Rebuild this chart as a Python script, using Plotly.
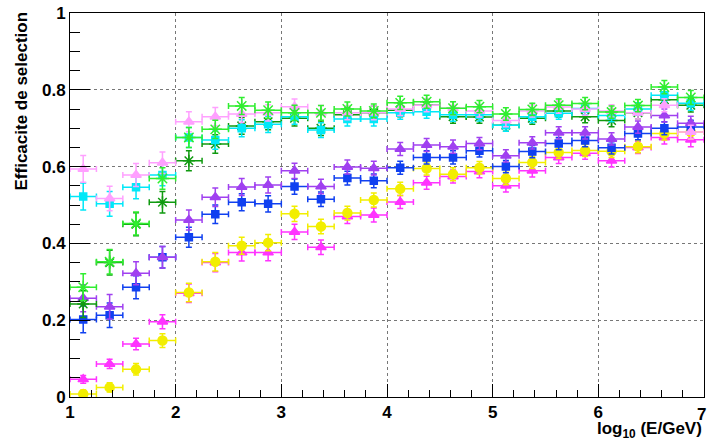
import plotly.graph_objects as go

x_centers = [1.125, 1.375, 1.625, 1.875, 2.125, 2.375, 2.625, 2.875, 3.125, 3.375, 3.625, 3.875,
             4.125, 4.375, 4.625, 4.875, 5.125, 5.375, 5.625, 5.875, 6.125, 6.375, 6.625, 6.875]
x_half_width = [0.125] * 24

light_pink = [0.594, 0.517, 0.578, 0.610, 0.717, 0.730, 0.737, 0.740, 0.756, 0.740, 0.740, 0.740,
              0.750, 0.760, 0.752, 0.745, 0.720, 0.745, 0.755, 0.750, 0.745, 0.740, 0.760, 0.690]
cyan = [0.522, 0.503, 0.546, 0.578, 0.676, 0.669, 0.700, 0.710, 0.730, 0.695, 0.724, 0.724,
        0.740, 0.743, 0.735, 0.735, 0.708, 0.730, 0.739, 0.751, 0.733, 0.750, 0.786, 0.765]
light_green = [0.286, 0.352, 0.452, 0.569, 0.676, 0.697, 0.758, 0.747, 0.740, 0.740, 0.750, 0.745,
               0.766, 0.769, 0.752, 0.756, 0.737, 0.749, 0.760, 0.764, 0.742, 0.759, 0.807, 0.780]
dark_green = [0.242, 0.350, 0.450, 0.507, 0.615, 0.659, 0.706, 0.717, 0.726, 0.700, 0.735, 0.740,
              0.747, 0.760, 0.730, 0.729, 0.708, 0.726, 0.745, 0.730, 0.720, 0.740, 0.774, 0.760]
purple = [0.257, 0.235, 0.322, 0.364, 0.461, 0.520, 0.547, 0.552, 0.589, 0.548, 0.599, 0.596,
          0.646, 0.656, 0.652, 0.660, 0.628, 0.662, 0.688, 0.688, 0.672, 0.703, 0.733, 0.713]
blue = [0.202, 0.213, 0.286, 0.364, 0.416, 0.476, 0.507, 0.503, 0.548, 0.515, 0.570, 0.563,
        0.597, 0.624, 0.624, 0.641, 0.600, 0.639, 0.660, 0.668, 0.649, 0.686, 0.700, 0.703]
yellow = [0.008, 0.025, 0.072, 0.147, 0.272, 0.352, 0.394, 0.402, 0.477, 0.444, 0.479, 0.513,
          0.542, 0.595, 0.580, 0.597, 0.569, 0.611, 0.637, 0.642, 0.640, 0.652, 0.686, 0.690]
magenta = [0.046, 0.086, 0.138, 0.196, 0.270, 0.350, 0.376, 0.376, 0.430, 0.390, 0.470, 0.474,
           0.508, 0.558, 0.574, 0.587, 0.550, 0.589, 0.624, 0.635, 0.615, 0.650, 0.676, 0.670]

y_err = [0.035, 0.032, 0.030, 0.028, 0.026, 0.024, 0.022, 0.021, 0.020, 0.019, 0.018, 0.018,
         0.017, 0.017, 0.017, 0.016, 0.016, 0.016, 0.016, 0.016, 0.016, 0.016, 0.017, 0.018]
low_err = [0.010, 0.012, 0.015, 0.018, 0.024, 0.024, 0.022, 0.021, 0.020, 0.019, 0.018, 0.018,
           0.017, 0.017, 0.017, 0.016, 0.016, 0.016, 0.016, 0.016, 0.016, 0.016, 0.017, 0.018]

x_range = [1, 7]
y_title = "Efficacite de selection"
x_title = "log<sub>10</sub> (E/GeV)"

series = [
    ("magenta", magenta, "#ff33ff", "triangle-up", 9, low_err),
    ("yellow", yellow, "#f2ee00", "circle", 9, low_err),
    ("blue", blue, "#1040f0", "square", 7, y_err),
    ("purple", purple, "#a040f0", "triangle-up", 9, y_err),
    ("dark_green", dark_green, "#109a10", "asterisk-open", 10, y_err),
    ("cyan", cyan, "#00e8f8", "square", 7, y_err),
    ("light_pink", light_pink, "#ffa0ff", "triangle-up", 9, y_err),
    ("light_green", light_green, "#30ee30", "asterisk-open", 11, y_err),
]

fig = go.Figure()
for name, vals, col, sym, size, err in series:
    fig.add_trace(go.Scatter(
        x=x_centers, y=vals, mode="markers", name=name,
        marker=dict(color=col, symbol=sym, size=size,
                    line=dict(color=col, width=1.5)),
        error_x=dict(type="data", array=x_half_width, color=col, thickness=1.5, width=3),
        error_y=dict(type="data", array=err, color=col, thickness=1.5, width=3),
        showlegend=False,
    ))

font_family = "Liberation Sans, Arial, sans-serif"
axis_font = dict(family=font_family, size=17, color="black", weight="bold")
fig.update_xaxes(
    range=x_range, dtick=1, tick0=1, ticks="inside", ticklen=13, tickwidth=1, tickcolor="black",
    showline=True, linecolor="black", linewidth=1, mirror=True, automargin=False,
    showgrid=True, gridcolor="#777777", griddash="dot", gridwidth=1,
    zeroline=False, tickfont=axis_font,
    minor=dict(dtick=0.2, ticks="inside", ticklen=7, tickcolor="black", showgrid=False),
)
fig.update_yaxes(
    range=[0, 1], dtick=0.2, tick0=0, ticks="inside", ticklen=20, tickwidth=1, tickcolor="black",
    showline=True, linecolor="black", linewidth=1, mirror=True, automargin=False,
    showgrid=True, gridcolor="#777777", griddash="dot", gridwidth=1,
    zeroline=False, tickfont=axis_font, tickformat="~g",
    minor=dict(dtick=0.05, ticks="inside", ticklen=10, tickcolor="black", showgrid=False),
)

# last x tick label (at the right edge), which plotly clips
fig.add_annotation(
    text=str(x_range[1]), xref="x", yref="paper", x=x_range[1], y=-0.015, xshift=-3,
    xanchor="center", yanchor="top", showarrow=False, font=axis_font,
)
fig.add_annotation(
    text=y_title, xref="paper", yref="paper", x=-0.076, y=1.01,
    xanchor="center", yanchor="top", textangle=-90, showarrow=False,
    font=dict(family=font_family, size=17, color="black", weight="bold"),
)
fig.add_annotation(
    text=x_title, xref="paper", yref="paper", x=1.0, y=-0.052,
    xanchor="right", yanchor="top", showarrow=False,
    font=dict(family=font_family, size=17, color="black", weight="bold"),
)

fig.update_layout(
    width=707, height=441,
    margin=dict(l=70, r=3, t=13, b=44),
    paper_bgcolor="white", plot_bgcolor="white",
)
fig.write_html("out.html", config={"displayModeBar": False},
               post_script="document.body.style.margin='0';document.body.style.overflow='hidden';")
